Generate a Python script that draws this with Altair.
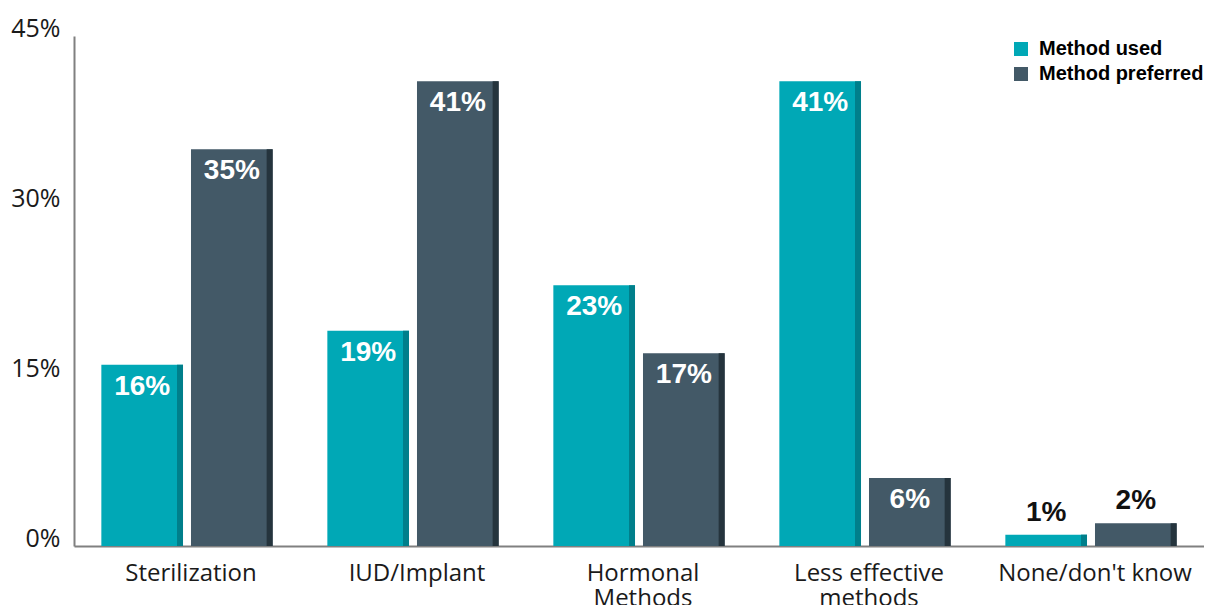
import altair as alt
import pandas as pd

categories = ["Sterilization", "IUD/Implant", "Hormonal\nMethods", "Less effective\nmethods", "None/don't know"]
series = ["Method used", "Method preferred"]
used = [16, 19, 23, 41, 1]
preferred = [35, 41, 17, 6, 2]
y_ticks = [0, 15, 30, 45]
colors = ["#00A8B6", "#435967"]
edge_colors = ["#007F8B", "#25343D"]

rows = []
for c, u, p in zip(categories, used, preferred):
    rows.append({"category": c, "series": series[0], "value": u})
    rows.append({"category": c, "series": series[1], "value": p})
df = pd.DataFrame(rows)
df["label"] = df["value"].astype(str) + "%"

x_enc = alt.X(
    "category:N",
    sort=categories,
    scale=alt.Scale(type="band", paddingInner=0.242, paddingOuter=0.121),
    axis=alt.Axis(
        title=None, labelAngle=0, ticks=False, grid=False,
        labelExpr="split(datum.label, '\\n')",
        labelFont="Open Sans", labelFontSize=24, labelColor="#1a1a1a",
        labelPadding=15, labelLineHeight=25, labelLimit=400, labelOffset=4,
        domainColor="#808080", domainWidth=2,
    ),
)
xo_enc = alt.XOffset("series:N", sort=series,
                     scale=alt.Scale(type="band", paddingInner=0.089, paddingOuter=0))
xo_edge = alt.XOffset("series:N", sort=series,
                      scale=alt.Scale(type="band", paddingInner=0.933, paddingOuter=0.422, align=1))
y_enc = alt.Y(
    "value:Q",
    scale=alt.Scale(domain=[0, 45]),
    axis=alt.Axis(
        title=None, values=y_ticks, labelExpr="datum.value + '%'",
        ticks=False, grid=False, labelBaseline="alphabetic",
        labelFont="Open Sans", labelFontSize=25, labelColor="#1a1a1a",
        labelPadding=14, domainColor="#808080", domainWidth=2,
    ),
)

base = alt.Chart(df)

bars = base.mark_bar().encode(
    x=x_enc, xOffset=xo_enc, y=y_enc,
    color=alt.Color(
        "series:N", sort=series,
        scale=alt.Scale(domain=series, range=colors),
        legend=alt.Legend(
            title=None, orient="none", legendX=937, legendY=3,
            symbolType="square", symbolSize=196, symbolStrokeWidth=0,
            labelFont="Liberation Sans", labelFontWeight="bold",
            labelFontSize=20, labelColor="black", labelOffset=8,
            labelLimit=300, rowPadding=5, padding=0,
        ),
    ),
)

edges = base.mark_bar().encode(
    x=x_enc, xOffset=xo_edge, y=y_enc,
    fill=alt.Fill("series:N", sort=series,
                  scale=alt.Scale(domain=series, range=edge_colors), legend=None),
)

inside = base.mark_text(
    dy=22, baseline="middle", color="white",
    font="Liberation Sans", fontWeight="bold", fontSize=28,
).encode(x=x_enc, xOffset=xo_enc, y=y_enc, text="label:N").transform_filter("datum.value >= 5")

above = base.mark_text(
    dy=-22, baseline="middle", color="#111111",
    font="Liberation Sans", fontWeight="bold", fontSize=28,
).encode(x=x_enc, xOffset=xo_enc, y=y_enc, text="label:N").transform_filter("datum.value < 5")

chart = alt.layer(bars, edges, inside, above).resolve_scale(
    xOffset="independent"
).properties(
    width=1130, height=510,
    padding={"left": 66, "top": 28, "right": 0, "bottom": 67},
    autosize=alt.AutoSizeParams(type="none"),
).configure_view(stroke=None)

chart.save("out.html", embed_options={"renderer": "svg", "actions": False})
